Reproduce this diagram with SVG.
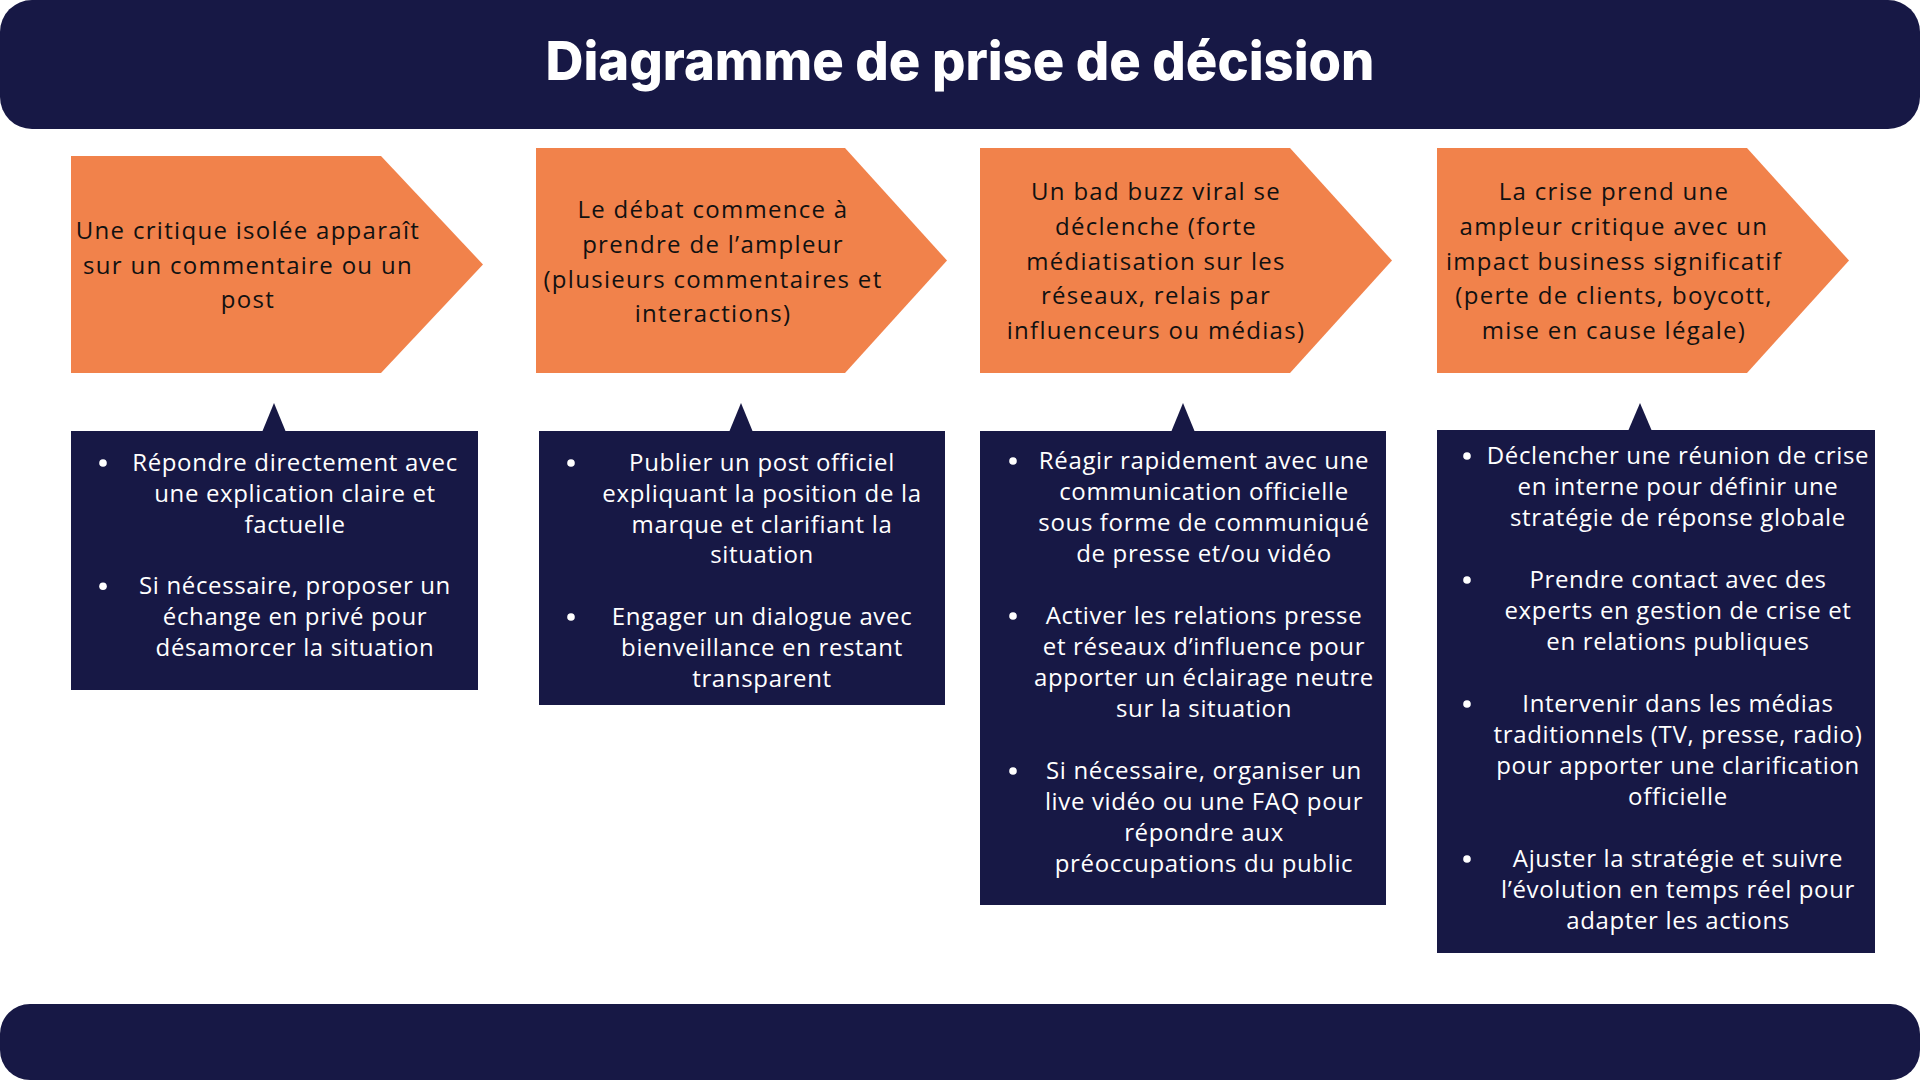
<svg xmlns="http://www.w3.org/2000/svg" width="1920" height="1080" viewBox="0 0 1920 1080">
<style>
.bar{fill:#171845}
.stage{fill:#F1824B}
.box{fill:#171845}
.title{font-family:Inter,"Noto Sans",sans-serif;font-weight:800;font-size:54px;fill:#ffffff;text-anchor:middle}
.st{font-family:"Open Sans","Noto Sans",sans-serif;font-size:24px;fill:#111111;text-anchor:middle;letter-spacing:1.3px}
.bt{font-family:"Open Sans","Noto Sans",sans-serif;font-size:24px;fill:#ffffff;text-anchor:middle;letter-spacing:0.65px}
.dot{fill:#ffffff}
</style>
<rect width="1920" height="1080" fill="#ffffff"/>
<g id="header">
<rect class="bar" x="0" y="0" width="1920" height="129" rx="32" ry="32"/>
<text class="title" x="960" y="80" textLength="829" lengthAdjust="spacingAndGlyphs">Diagramme de prise de décision</text>
</g>
<g id="footer">
<rect class="bar" x="0" y="1004" width="1920" height="76" rx="30" ry="30"/>
</g>

<g id="stage1">
<polygon class="stage" points="71,156 381,156 483,264.5 381,373 71,373"/>
<text class="st" x="248" y="239">Une critique isolée apparaît</text>
<text class="st" x="248" y="273.5">sur un commentaire ou un</text>
<text class="st" x="248" y="308">post</text>
</g>
<g id="stage2">
<polygon class="stage" points="536,148 845,148 947,260.5 845,373 536,373"/>
<text class="st" x="713" y="218">Le débat commence à</text>
<text class="st" x="713" y="252.8">prendre de l’ampleur</text>
<text class="st" x="713" y="287.6">(plusieurs commentaires et</text>
<text class="st" x="713" y="322.4">interactions)</text>
</g>
<g id="stage3">
<polygon class="stage" points="980,148 1290,148 1392,260.5 1290,373 980,373"/>
<text class="st" x="1156" y="200">Un bad buzz viral se</text>
<text class="st" x="1156" y="234.8">déclenche (forte</text>
<text class="st" x="1156" y="269.6">médiatisation sur les</text>
<text class="st" x="1156" y="304.4">réseaux, relais par</text>
<text class="st" x="1156" y="339.2">influenceurs ou médias)</text>
</g>
<g id="stage4">
<polygon class="stage" points="1437,148 1747,148 1849,260.5 1747,373 1437,373"/>
<text class="st" x="1614" y="200">La crise prend une</text>
<text class="st" x="1614" y="234.8">ampleur critique avec un</text>
<text class="st" x="1614" y="269.6">impact business significatif</text>
<text class="st" x="1614" y="304.4">(perte de clients, boycott,</text>
<text class="st" x="1614" y="339.2">mise en cause légale)</text>
</g>

<g id="actions1">
<polygon class="box" points="262.5,431 274,403 285.5,431"/>
<rect class="box" x="71" y="431" width="407" height="259"/>
<circle class="dot" cx="103" cy="463" r="3.8"/>
<text class="bt" x="295" y="471">Répondre directement avec</text>
<text class="bt" x="295" y="501.8">une explication claire et</text>
<text class="bt" x="295" y="532.6">factuelle</text>
<circle class="dot" cx="103" cy="586.2" r="3.8"/>
<text class="bt" x="295" y="594.2">Si nécessaire, proposer un</text>
<text class="bt" x="295" y="625">échange en privé pour</text>
<text class="bt" x="295" y="655.8">désamorcer la situation</text>
</g>
<g id="actions2">
<polygon class="box" points="729.5,431 741,403 752.5,431"/>
<rect class="box" x="539" y="431" width="406" height="274"/>
<circle class="dot" cx="571" cy="463" r="3.8"/>
<text class="bt" x="762" y="471">Publier un post officiel</text>
<text class="bt" x="762" y="501.8">expliquant la position de la</text>
<text class="bt" x="762" y="532.6">marque et clarifiant la</text>
<text class="bt" x="762" y="563.4">situation</text>
<circle class="dot" cx="571" cy="617" r="3.8"/>
<text class="bt" x="762" y="625">Engager un dialogue avec</text>
<text class="bt" x="762" y="655.8">bienveillance en restant</text>
<text class="bt" x="762" y="686.6">transparent</text>
</g>
<g id="actions3">
<polygon class="box" points="1171.5,431 1183,403 1194.5,431"/>
<rect class="box" x="980" y="431" width="406" height="474"/>
<circle class="dot" cx="1013" cy="461" r="3.8"/>
<text class="bt" x="1204" y="469">Réagir rapidement avec une</text>
<text class="bt" x="1204" y="500">communication officielle</text>
<text class="bt" x="1204" y="531">sous forme de communiqué</text>
<text class="bt" x="1204" y="562">de presse et/ou vidéo</text>
<circle class="dot" cx="1013" cy="616" r="3.8"/>
<text class="bt" x="1204" y="624">Activer les relations presse</text>
<text class="bt" x="1204" y="655">et réseaux d’influence pour</text>
<text class="bt" x="1204" y="686">apporter un éclairage neutre</text>
<text class="bt" x="1204" y="717">sur la situation</text>
<circle class="dot" cx="1013" cy="771" r="3.8"/>
<text class="bt" x="1204" y="779">Si nécessaire, organiser un</text>
<text class="bt" x="1204" y="810">live vidéo ou une FAQ pour</text>
<text class="bt" x="1204" y="841">répondre aux</text>
<text class="bt" x="1204" y="872">préoccupations du public</text>
</g>
<g id="actions4">
<polygon class="box" points="1628.5,430 1640,403 1651.5,430"/>
<rect class="box" x="1437" y="430" width="438" height="523"/>
<circle class="dot" cx="1467" cy="456" r="3.8"/>
<text class="bt" x="1678" y="464">Déclencher une réunion de crise</text>
<text class="bt" x="1678" y="495">en interne pour définir une</text>
<text class="bt" x="1678" y="526">stratégie de réponse globale</text>
<circle class="dot" cx="1467" cy="580" r="3.8"/>
<text class="bt" x="1678" y="588">Prendre contact avec des</text>
<text class="bt" x="1678" y="619">experts en gestion de crise et</text>
<text class="bt" x="1678" y="650">en relations publiques</text>
<circle class="dot" cx="1467" cy="704" r="3.8"/>
<text class="bt" x="1678" y="712">Intervenir dans les médias</text>
<text class="bt" x="1678" y="743">traditionnels (TV, presse, radio)</text>
<text class="bt" x="1678" y="774">pour apporter une clarification</text>
<text class="bt" x="1678" y="805">officielle</text>
<circle class="dot" cx="1467" cy="859" r="3.8"/>
<text class="bt" x="1678" y="867">Ajuster la stratégie et suivre</text>
<text class="bt" x="1678" y="898">l’évolution en temps réel pour</text>
<text class="bt" x="1678" y="929">adapter les actions</text>
</g>
</svg>
